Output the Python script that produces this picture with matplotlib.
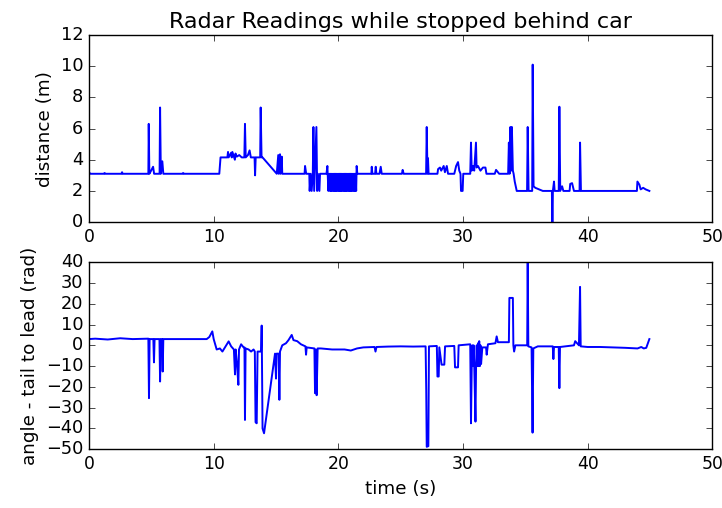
import matplotlib
matplotlib.use("Agg")
import matplotlib.pyplot as plt

# Radar distance to the lead car (m) over time (s)
dist_time = [
    0.00, 0.10, 1.20, 1.25, 1.30, 2.60, 2.65, 2.70, 4.76, 4.79, 4.84, 4.98, 5.14, 5.22,
    5.66, 5.70, 5.76, 5.88, 5.96, 7.50, 7.55, 7.60, 10.45, 10.55, 11.10, 11.15, 11.20,
    11.40, 11.45, 11.50, 11.70, 11.75, 11.85, 12.05, 12.25, 12.46, 12.51, 12.57, 12.75,
    12.88, 12.98, 13.28, 13.32, 13.37, 13.73, 13.77, 13.84, 13.92, 15.06, 15.18, 15.22,
    15.32, 15.36, 15.46, 15.50, 17.29, 17.33, 17.42, 17.67, 17.70, 17.78, 17.86, 17.95,
    18.00, 18.06, 18.24, 18.30, 18.36, 18.48, 18.53, 18.58, 19.05, 19.12, 19.20, 19.28,
    19.33, 19.38, 19.43, 19.48, 19.53, 19.58, 19.63, 19.68, 19.73, 19.78, 19.83, 19.88,
    19.93, 19.98, 20.03, 20.08, 20.13, 20.18, 20.23, 20.28, 20.33, 20.38, 20.43, 20.48,
    20.53, 20.58, 20.63, 20.68, 20.73, 20.78, 20.83, 20.88, 20.93, 20.98, 21.03, 21.08,
    21.13, 21.18, 21.23, 21.28, 21.33, 21.38, 21.43, 21.47, 21.52,
    22.65, 22.68, 22.73, 22.95, 23.00,
    23.05, 23.30, 23.40, 23.48, 25.10, 25.16, 25.24, 27.04, 27.09, 27.15, 27.19, 27.24,
    27.95, 28.00, 28.15, 28.25, 28.45, 28.55, 28.70, 28.80, 29.30, 29.45, 29.60, 29.70,
    29.80, 29.84, 29.97, 30.02, 30.58, 30.64, 30.70, 30.80, 30.90, 31.04, 31.09, 31.20,
    31.40, 31.60, 31.80, 31.88, 32.55, 32.65, 32.80, 32.90, 33.62, 33.68, 33.74, 33.80,
    33.86, 33.92, 34.00, 34.06, 34.15, 34.31, 35.14, 35.19, 35.26, 35.55, 35.59, 35.66,
    35.80, 36.10, 36.40, 37.13, 37.17, 37.21, 37.30, 37.35, 37.68, 37.73, 37.80, 37.95,
    38.05, 38.55, 38.60, 38.75, 38.90, 39.35, 39.39, 39.46, 43.95, 43.99, 44.15, 44.25,
    44.45, 44.65, 44.95,
]
distance = [
    3.2, 3.1, 3.1, 3.15, 3.1, 3.1, 3.2, 3.1, 3.1, 6.3, 3.1, 3.3, 3.55, 3.1,
    3.1, 7.35, 3.1, 3.9, 3.1, 3.1, 3.15, 3.1, 3.1, 4.15, 4.15, 4.5, 4.15,
    4.45, 4.15, 4.5, 4.0, 4.4, 4.2, 4.3, 4.15, 4.15, 6.3, 4.15, 4.3,
    4.6, 4.15, 4.15, 3.0, 4.15, 4.15, 7.35, 4.15, 4.15, 3.1, 4.3, 3.1,
    4.35, 3.1, 4.2, 3.1, 3.1, 3.6, 3.1, 3.1, 2.0, 3.1, 2.0, 3.1,
    6.1, 2.0, 6.1, 2.0, 3.1, 2.0, 3.1, 3.1, 3.1, 3.6, 2.0, 3.1,
    2.0, 3.1, 2.0, 3.1, 2.0, 3.1, 2.0, 3.1, 2.0, 3.1, 2.0, 3.1,
    2.0, 3.1, 2.0, 3.1, 2.0, 3.1, 2.0, 3.1, 2.0, 3.1, 2.0, 3.1,
    2.0, 3.1, 2.0, 3.1, 2.0, 3.1, 2.0, 3.1, 2.0, 3.1, 2.0, 3.1,
    2.0, 3.1, 2.0, 3.1, 2.0, 3.1, 2.0, 3.6, 3.1,
    3.1, 3.55, 3.1, 3.1, 3.55,
    3.1, 3.1, 3.55, 3.1, 3.1, 3.35, 3.1, 3.1, 6.1, 3.1, 4.1, 3.1,
    3.1, 3.4, 3.5, 3.3, 3.6, 3.2, 3.6, 3.1, 3.1, 3.6, 3.85, 3.3,
    3.1, 2.0, 2.0, 3.1, 3.1, 5.1, 3.3, 3.6, 3.3, 5.1, 3.5, 3.6,
    3.3, 3.5, 3.5, 3.1, 3.1, 3.35, 3.2, 3.1, 3.1, 5.1, 3.1, 6.1,
    3.3, 6.1, 3.3, 3.1, 2.6, 2.0, 2.0, 6.1, 2.0, 2.0, 10.1, 2.3,
    2.2, 2.1, 2.0, 2.0, -1.0, 2.0, 2.6, 2.0, 2.0, 7.4, 2.0, 2.3,
    2.0, 2.0, 2.45, 2.5, 2.0, 2.0, 5.1, 2.0, 2.0, 2.6, 2.4, 2.1,
    2.2, 2.1, 2.0,
]

# Bearing of the tail of the lead car over time (s)
angle_time = [
    0.00, 0.50, 1.50, 2.50, 3.50, 4.76, 4.81, 4.86, 5.16, 5.21, 5.26, 5.65, 5.70, 5.76,
    5.87, 5.91, 5.96, 9.44, 9.65, 9.89, 10.00, 10.24, 10.50, 10.70, 11.00, 11.20, 11.40,
    11.62, 11.71, 11.76, 11.86, 11.98, 12.03, 12.20, 12.40, 12.47, 12.51, 12.56, 12.80,
    13.00, 13.20, 13.30, 13.36, 13.45, 13.52, 13.80, 13.85, 13.92, 14.04, 14.92, 15.00,
    15.05, 15.22, 15.27, 15.32, 15.50, 15.80, 16.00, 16.26, 16.40, 16.70, 17.00, 17.36,
    17.41, 17.46, 18.08, 18.13, 18.20, 18.26, 18.34, 18.60, 19.50, 20.50, 21.00, 21.50,
    22.00, 22.90, 22.98, 23.06, 24.00, 25.00, 26.00, 27.00, 27.05, 27.09, 27.22, 27.27,
    27.90, 27.95, 28.05, 28.10, 28.28, 28.50, 28.56, 29.30, 29.36, 29.60, 29.65, 30.58,
    30.64, 30.70, 30.75, 30.80, 30.85, 30.90, 31.00, 31.05, 31.10, 31.15, 31.20, 31.25,
    31.30, 31.35, 31.40, 31.45, 31.55, 31.85, 31.90, 32.00,
    32.60, 32.70, 32.80, 33.68, 33.72, 34.00, 34.04, 34.10, 34.20, 35.15, 35.19, 35.24,
    35.50, 35.58, 35.64, 36.00, 37.20, 37.25, 37.30, 37.68, 37.73, 37.78, 38.90, 39.00,
    39.30, 39.39, 39.44, 40.00, 41.00, 42.00, 43.00, 44.00, 44.30, 44.50, 44.70, 44.95,
]
angle = [
    3.0, 3.2, 2.8, 3.4, 3.0, 3.2, -25.4, 3.0, 3.0, -8.2, 3.0, 3.0, -17.4, 3.0,
    3.0, -12.6, 3.0, 3.0, 4.0, 6.7, 3.0, -2.0, -1.5, -3.0, 0.0, 1.9, -0.5,
    -2.0, -14.0, -2.0, -8.0, -19.0, -2.0, 0.5, -1.0, -1.0, -35.9, -1.5, -2.0,
    -3.0, -2.0, -3.0, -37.0, -37.5, -3.0, -3.0, 9.5, -40.0, -42.3, -4.0, -16.0,
    -4.0, -4.0, -26.2, -3.0, 0.0, 1.0, 2.5, 5.0, 2.5, 2.0, 0.5, -0.5,
    -4.5, -1.0, -1.5, -23.0, -2.0, -24.0, -1.5, -1.5, -2.0, -2.0, -2.5, -1.5,
    -1.0, -0.8, -3.0, -0.8, -0.6, -0.5, -0.6, -0.5, -21.4, -48.8, -48.5, -0.5,
    -0.3, -15.0, -15.0, -1.0, -9.3, -9.3, -0.5, -0.3, -10.6, -10.6, 0.0, 0.5,
    -37.5, -10.0, 0.0, -10.0, 0.0, -9.0, -36.7, -9.0, 0.0, -10.0, 1.0, -10.0,
    2.0, -10.0, 0.0, -9.0, -1.0, -1.0, -4.5, 0.5,
    1.0, 4.3, 1.5, 1.5, 22.8, 22.8, 0.0, -3.0, 0.0, 0.0, 42.0, -0.5,
    -1.0, -42.0, -1.5, -0.5, -0.5, -6.6, -0.8, -0.8, -20.6, -0.8, 0.0, 2.0,
    0.0, 28.1, -0.5, -0.8, -0.8, -1.0, -1.2, -1.5, -0.8, -1.5, -1.2, 3.0,
]

plt.style.use("classic")
plt.rcParams["font.size"] = 13.2
plt.rcParams["xtick.labelsize"] = 12.4
plt.rcParams["ytick.labelsize"] = 12.8
fig, (ax1, ax2) = plt.subplots(2, 1, figsize=(7.22, 5.08), dpi=100, facecolor="white")
fig.subplots_adjust(left=0.1233, right=0.9866, top=0.9311, bottom=0.1156, hspace=0.214)

ax1.plot(dist_time, distance, color="b", linewidth=1.4)
ax1.set_xlim(0, 50)
ax1.set_ylim(0, 12)
ax1.set_yticks([0, 2, 4, 6, 8, 10, 12])
ax1.set_ylabel("distance (m)")
ax1.set_title("Radar Readings while stopped behind car", fontsize=16)

ax2.plot(angle_time, angle, color="b", linewidth=1.4)
ax2.set_xlim(0, 50)
ax2.set_ylim(-50, 40)
ax2.set_yticks(list(range(-50, 41, 10)))
ax2.set_ylabel("angle - tail to lead (rad)")
ax2.set_xlabel("time (s)")

fig.savefig("out.png", dpi=100, facecolor="white")
